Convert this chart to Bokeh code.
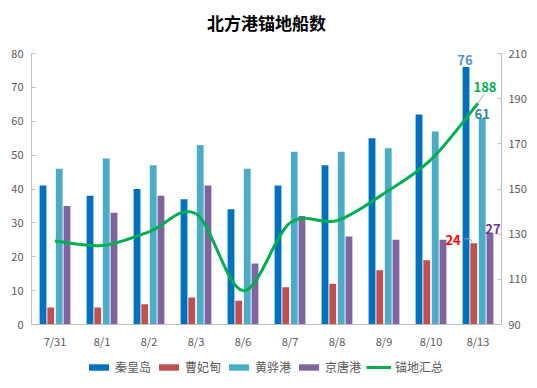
from bokeh.plotting import figure
from bokeh.models import Range1d, LinearAxis, FixedTicker, Legend, LegendItem, Span
from bokeh.core.properties import value
from bokeh.embed import file_html
from bokeh.resources import INLINE

dates = ["7/31", "8/1", "8/2", "8/3", "8/6", "8/7", "8/8", "8/9", "8/10", "8/13"]
qhd = [41, 38, 40, 37, 34, 41, 47, 55, 62, 76]
cfd = [5, 5, 6, 8, 7, 11, 12, 16, 19, 24]
hhg = [46, 49, 47, 53, 46, 51, 51, 52, 57, 61]
jtg = [35, 33, 38, 41, 18, 32, 26, 25, 25, 27]
total = [127, 125, 131, 139, 105, 135, 136, 148, 163, 188]
series_names = ["秦皇岛", "曹妃甸", "黄骅港", "京唐港", "锚地汇总"]
title_text = "北方港锚地船数"

COLORS = ["#0070C0", "#C0504D", "#4BACC6", "#8064A2", "#00B050"]
CJK = "Noto Sans CJK SC"
GRAY = "#595959"
AX = "#BFBFBF"

# layout (pixels): plotting band between TOP_PX and BOT_PX of a W x H canvas
W, H = 537, 388
TOP_PX, BOT_PX = 53, 324
L_MIN, L_MAX = 0, 80
R_MIN, R_MAX = 90, 210
ppu_l = (BOT_PX - TOP_PX) / (L_MAX - L_MIN)
ppu_r = (BOT_PX - TOP_PX) / (R_MAX - R_MIN)

xs = list(range(len(dates)))

p = figure(width=W, height=H, x_range=Range1d(-0.5, 9.5),
           y_range=Range1d(L_MIN - (H - BOT_PX) / ppu_l, L_MAX + TOP_PX / ppu_l),
           x_axis_location=None, y_axis_location=None,
           output_backend="svg", toolbar_location=None,
           min_border_left=31, min_border_right=36, min_border_top=0, min_border_bottom=0)
p.extra_y_ranges = {"total": Range1d(R_MIN - (H - BOT_PX) / ppu_r, R_MAX + TOP_PX / ppu_r)}
p.outline_line_color = None
p.grid.visible = False
p.background_fill_color = "white"
p.border_fill_color = "white"

# title
p.text(x=[4.5], y=[L_MAX], text=[title_text], y_offset=-(TOP_PX - 22), text_align="center",
       text_baseline="middle", text_color="#000000", text_font=value(CJK),
       text_font_size="17px", text_font_style="bold")

# bars
offsets = [-0.255, -0.09, 0.09, 0.255]
bw = 0.145
renderers = []
for vals, off, col in zip([qhd, cfd, hhg, jtg], offsets, COLORS[:4]):
    r = p.vbar(x=[x + off for x in xs], top=vals, width=bw, bottom=0,
               fill_color=col, line_color=None)
    renderers.append(r)

# smoothed total line (Catmull-Rom -> cubic Bezier, as Excel smoothing)
n = len(total)
x0s, y0s, x1s, y1s, c0x, c0y, c1x, c1y = [], [], [], [], [], [], [], []
for i in range(n - 1):
    pm = (xs[max(i - 1, 0)], total[max(i - 1, 0)])
    p0 = (xs[i], total[i])
    p1 = (xs[i + 1], total[i + 1])
    p2 = (xs[min(i + 2, n - 1)], total[min(i + 2, n - 1)])
    x0s.append(p0[0]); y0s.append(p0[1]); x1s.append(p1[0]); y1s.append(p1[1])
    c0x.append(p0[0] + (p1[0] - pm[0]) / 6); c0y.append(p0[1] + (p1[1] - pm[1]) / 6)
    c1x.append(p1[0] - (p2[0] - p0[0]) / 6); c1y.append(p1[1] - (p2[1] - p0[1]) / 6)
lr = p.bezier(x0=x0s, y0=y0s, x1=x1s, y1=y1s, cx0=c0x, cy0=c0y, cx1=c1x, cy1=c1y,
              line_color=COLORS[4], line_width=3, y_range_name="total")
renderers.append(lr)

# category axis: baseline + labels
p.add_layout(Span(location=0, dimension="width", line_color=AX, line_width=1))
p.text(x=xs, y=[0] * n, text=dates, y_offset=16, text_align="center", text_baseline="middle",
       text_color=GRAY, text_font=value(CJK), text_font_size="11px")

def style_axis(a, standoff):
    a.major_tick_in = 4
    a.major_tick_out = 0
    a.minor_tick_line_color = None
    a.axis_line_color = AX
    a.major_tick_line_color = AX
    a.major_label_text_font = CJK
    a.major_label_text_font_size = "11px"
    a.major_label_text_color = GRAY
    a.major_label_standoff = standoff

la = LinearAxis(ticker=FixedTicker(ticks=list(range(L_MIN, L_MAX + 1, 10))), bounds=(L_MIN, L_MAX))
style_axis(la, 8)
p.add_layout(la, "left")

ra = LinearAxis(y_range_name="total", ticker=FixedTicker(ticks=list(range(R_MIN, R_MAX + 1, 20))),
                bounds=(R_MIN, R_MAX))
style_axis(ra, 7)
p.add_layout(ra, "right")

# data labels for the last date
last = n - 1
def lab(x, y, text, color, xo=0, yo=0, align="center", base="bottom", rng="default"):
    p.text(x=[x], y=[y], text=[text], x_offset=xo, y_offset=yo, text_align=align,
           text_baseline=base, text_color=color, text_font=value(CJK),
           text_font_size="13px", text_font_style="bold", y_range_name=rng)

lab(xs[last] + offsets[0], qhd[last], str(qhd[last]), "#558ED5", xo=-1, yo=-2)
lab(xs[last] + offsets[2], hhg[last], str(hhg[last]), "#31859C", yo=1)
lab(xs[last] + offsets[3], jtg[last], str(jtg[last]), "#7030A0", xo=3, yo=1)
lab(xs[last] + offsets[1], cfd[last], str(cfd[last]), "#FF0000", xo=-13, yo=-3, align="right", base="middle")
lab(xs[last], total[last], str(total[last]), "#00B050", xo=7, yo=-16, base="middle", rng="total")

# leader lines
p.line(x=[xs[last] - 0.005, xs[last] + 0.13], y=[total[last], total[last] + 4],
       line_color="#A6A6A6", line_width=1, y_range_name="total")
p.line(x=[xs[last] + offsets[1] - 0.2, xs[last] + offsets[1] - 0.08, xs[last] + offsets[1] - 0.03],
       y=[cfd[last] + 1.3, cfd[last] + 1.3, cfd[last] + 0.2],
       line_color="#A6A6A6", line_width=1)

legend = Legend(items=[LegendItem(label=nm, renderers=[r]) for nm, r in zip(series_names, renderers)],
                orientation="horizontal", location=(55, 13),
                label_text_font=CJK, label_text_font_size="12px", label_text_color=GRAY,
                glyph_width=25, glyph_height=8, spacing=5, label_standoff=4,
                padding=0, margin=0, border_line_color=None, background_fill_alpha=0)
p.add_layout(legend, "center")

open("out.html", "w").write(file_html(p, INLINE))
